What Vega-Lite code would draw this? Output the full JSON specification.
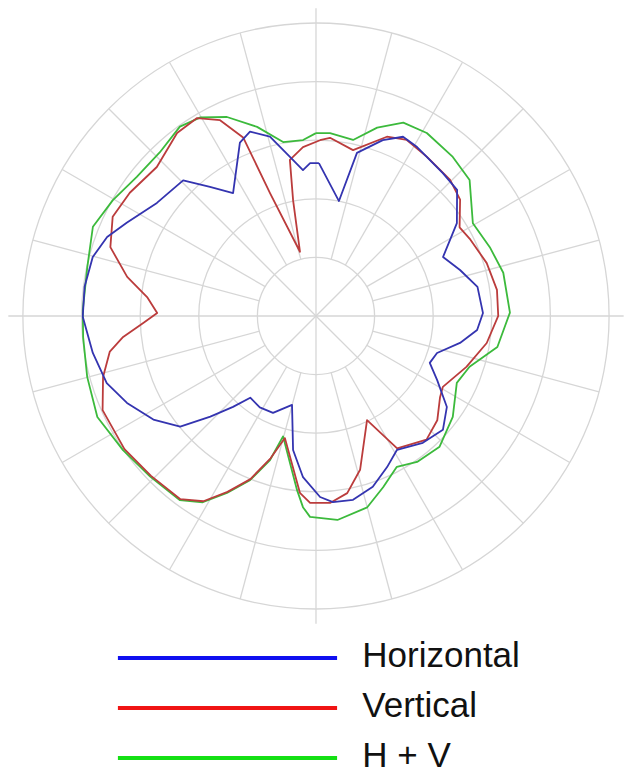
{
  "$schema": "https://vega.github.io/schema/vega-lite/v6.json",
  "width": 625,
  "height": 774,
  "padding": 0,
  "autosize": {"type": "none"},
  "background": "white",
  "config": {"view": {"stroke": null}},
  "datasets": {
    "rings": [{"ring": 10}, {"ring": 20}, {"ring": 30}, {"ring": 40}, {"ring": 50}],
    "spokes": [
      {"angle": 0, "from": 0, "to": 52.5}, {"angle": 15, "from": 10, "to": 50}, {"angle": 30, "from": 10, "to": 50},
      {"angle": 45, "from": 0, "to": 50}, {"angle": 60, "from": 10, "to": 50}, {"angle": 75, "from": 10, "to": 50},
      {"angle": 90, "from": 0, "to": 52.5}, {"angle": 105, "from": 10, "to": 50}, {"angle": 120, "from": 10, "to": 50},
      {"angle": 135, "from": 0, "to": 50}, {"angle": 150, "from": 10, "to": 50}, {"angle": 165, "from": 10, "to": 50},
      {"angle": 180, "from": 0, "to": 52.5}, {"angle": 195, "from": 10, "to": 50}, {"angle": 210, "from": 10, "to": 50},
      {"angle": 225, "from": 0, "to": 50}, {"angle": 240, "from": 10, "to": 50}, {"angle": 255, "from": 10, "to": 50},
      {"angle": 270, "from": 0, "to": 52.5}, {"angle": 285, "from": 10, "to": 50}, {"angle": 300, "from": 10, "to": 50},
      {"angle": 315, "from": 0, "to": 50}, {"angle": 330, "from": 10, "to": 50}, {"angle": 345, "from": 10, "to": 50}
    ],
    "pattern": [
      {"series": "H + V", "angle": 0, "level": 31.2}, {"series": "H + V", "angle": 4.4, "level": 31.3},
      {"series": "H + V", "angle": 11.9, "level": 30.7}, {"series": "H + V", "angle": 18, "level": 33.8},
      {"series": "H + V", "angle": 24.3, "level": 36.2}, {"series": "H + V", "angle": 31.2, "level": 36.5},
      {"series": "H + V", "angle": 40.7, "level": 35.8}, {"series": "H + V", "angle": 48.5, "level": 35.0},
      {"series": "H + V", "angle": 59.4, "level": 31.1}, {"series": "H + V", "angle": 68.4, "level": 31.9},
      {"series": "H + V", "angle": 77, "level": 32.8}, {"series": "H + V", "angle": 89, "level": 33.1},
      {"series": "H + V", "angle": 99.7, "level": 31.4}, {"series": "H + V", "angle": 108.3, "level": 27.6},
      {"series": "H + V", "angle": 115.4, "level": 26.6}, {"series": "H + V", "angle": 126.4, "level": 29.0},
      {"series": "H + V", "angle": 136.6, "level": 30.7}, {"series": "H + V", "angle": 145.3, "level": 30.3},
      {"series": "H + V", "angle": 151.8, "level": 29.2}, {"series": "H + V", "angle": 158.6, "level": 31.4},
      {"series": "H + V", "angle": 165, "level": 33.8}, {"series": "H + V", "angle": 174, "level": 35.0},
      {"series": "H + V", "angle": 181.7, "level": 34.3}, {"series": "H + V", "angle": 183.9, "level": 32.7},
      {"series": "H + V", "angle": 186.2, "level": 29.9}, {"series": "H + V", "angle": 195.3, "level": 21.3},
      {"series": "H + V", "angle": 197.7, "level": 25.8}, {"series": "H + V", "angle": 201.9, "level": 30.2},
      {"series": "H + V", "angle": 206.7, "level": 33.8}, {"series": "H + V", "angle": 211.3, "level": 37.2},
      {"series": "H + V", "angle": 216.5, "level": 39.1}, {"series": "H + V", "angle": 225.9, "level": 39.4},
      {"series": "H + V", "angle": 235.2, "level": 40.1}, {"series": "H + V", "angle": 245.2, "level": 41.1},
      {"series": "H + V", "angle": 255.1, "level": 40.4}, {"series": "H + V", "angle": 264.8, "level": 39.9},
      {"series": "H + V", "angle": 271.5, "level": 39.8}, {"series": "H + V", "angle": 282, "level": 39.9},
      {"series": "H + V", "angle": 291.8, "level": 41.0}, {"series": "H + V", "angle": 299.7, "level": 39.9},
      {"series": "H + V", "angle": 307.8, "level": 38.7}, {"series": "H + V", "angle": 316.3, "level": 38.6},
      {"series": "H + V", "angle": 324.3, "level": 39.8}, {"series": "H + V", "angle": 329.8, "level": 39.2},
      {"series": "H + V", "angle": 335.9, "level": 37.2}, {"series": "H + V", "angle": 342.7, "level": 33.8},
      {"series": "H + V", "angle": 349.3, "level": 30.2}, {"series": "H + V", "angle": 355.8, "level": 30.1},
      {"series": "H + V", "angle": 360, "level": 31.2},

      {"series": "Vertical", "angle": 1.3, "level": 30.0}, {"series": "Vertical", "angle": 4.5, "level": 30.5},
      {"series": "Vertical", "angle": 12.6, "level": 29.0}, {"series": "Vertical", "angle": 21.6, "level": 32.9},
      {"series": "Vertical", "angle": 27.3, "level": 33.8}, {"series": "Vertical", "angle": 34.9, "level": 33.1},
      {"series": "Vertical", "angle": 44.6, "level": 32.6}, {"series": "Vertical", "angle": 51.1, "level": 31.6},
      {"series": "Vertical", "angle": 58.3, "level": 28.8}, {"series": "Vertical", "angle": 63.7, "level": 29.4},
      {"series": "Vertical", "angle": 72.8, "level": 30.5}, {"series": "Vertical", "angle": 81.8, "level": 31.2},
      {"series": "Vertical", "angle": 90, "level": 31.1}, {"series": "Vertical", "angle": 99, "level": 29.5},
      {"series": "Vertical", "angle": 108.7, "level": 27.1}, {"series": "Vertical", "angle": 119.2, "level": 24.8},
      {"series": "Vertical", "angle": 123.2, "level": 25.3}, {"series": "Vertical", "angle": 130.7, "level": 27.3},
      {"series": "Vertical", "angle": 138.2, "level": 28.3}, {"series": "Vertical", "angle": 148.5, "level": 26.5},
      {"series": "Vertical", "angle": 153.9, "level": 19.8}, {"series": "Vertical", "angle": 164, "level": 27.3},
      {"series": "Vertical", "angle": 170, "level": 30.7}, {"series": "Vertical", "angle": 175.7, "level": 32.0},
      {"series": "Vertical", "angle": 181.8, "level": 31.9}, {"series": "Vertical", "angle": 185.2, "level": 30.3},
      {"series": "Vertical", "angle": 194.3, "level": 21.5}, {"series": "Vertical", "angle": 197.7, "level": 25.5},
      {"series": "Vertical", "angle": 201.9, "level": 30.0}, {"series": "Vertical", "angle": 206.7, "level": 33.6},
      {"series": "Vertical", "angle": 211.3, "level": 37.0}, {"series": "Vertical", "angle": 216.5, "level": 38.9},
      {"series": "Vertical", "angle": 225.9, "level": 39.2}, {"series": "Vertical", "angle": 235.2, "level": 39.8},
      {"series": "Vertical", "angle": 246.2, "level": 39.8}, {"series": "Vertical", "angle": 254, "level": 37.8},
      {"series": "Vertical", "angle": 260.2, "level": 35.7}, {"series": "Vertical", "angle": 263.8, "level": 33.1},
      {"series": "Vertical", "angle": 267.7, "level": 29.5}, {"series": "Vertical", "angle": 271.1, "level": 27.1},
      {"series": "Vertical", "angle": 276.4, "level": 29.0}, {"series": "Vertical", "angle": 281.7, "level": 32.9},
      {"series": "Vertical", "angle": 288.5, "level": 37.0}, {"series": "Vertical", "angle": 296, "level": 38.6},
      {"series": "Vertical", "angle": 303.5, "level": 38.1}, {"series": "Vertical", "angle": 313.1, "level": 37.2},
      {"series": "Vertical", "angle": 322.8, "level": 39.2}, {"series": "Vertical", "angle": 329, "level": 39.4},
      {"series": "Vertical", "angle": 333.9, "level": 37.2}, {"series": "Vertical", "angle": 337.8, "level": 32.9},
      {"series": "Vertical", "angle": 339.5, "level": 22.4}, {"series": "Vertical", "angle": 346, "level": 11.3},
      {"series": "Vertical", "angle": 348.8, "level": 20.1}, {"series": "Vertical", "angle": 350.5, "level": 27.0},
      {"series": "Vertical", "angle": 355.6, "level": 28.9}, {"series": "Vertical", "angle": 361.3, "level": 30.0},

      {"series": "Horizontal", "angle": 1.1, "level": 26.1}, {"series": "Horizontal", "angle": 11.3, "level": 20.0},
      {"series": "Horizontal", "angle": 14.1, "level": 28.7}, {"series": "Horizontal", "angle": 20.8, "level": 32.1},
      {"series": "Horizontal", "angle": 25.9, "level": 34.0}, {"series": "Horizontal", "angle": 30.9, "level": 33.6},
      {"series": "Horizontal", "angle": 41.6, "level": 32.6}, {"series": "Horizontal", "angle": 48.2, "level": 32.3},
      {"series": "Horizontal", "angle": 56.6, "level": 28.8}, {"series": "Horizontal", "angle": 65.1, "level": 23.9},
      {"series": "Horizontal", "angle": 72.3, "level": 25.8}, {"series": "Horizontal", "angle": 79.8, "level": 28.0},
      {"series": "Horizontal", "angle": 89, "level": 28.5}, {"series": "Horizontal", "angle": 95, "level": 27.6},
      {"series": "Horizontal", "angle": 100.6, "level": 25.0}, {"series": "Horizontal", "angle": 107, "level": 21.6},
      {"series": "Horizontal", "angle": 112.4, "level": 21.0}, {"series": "Horizontal", "angle": 117.9, "level": 23.4},
      {"series": "Horizontal", "angle": 124.8, "level": 27.2}, {"series": "Horizontal", "angle": 131.9, "level": 29.1},
      {"series": "Horizontal", "angle": 139.9, "level": 28.3}, {"series": "Horizontal", "angle": 148.8, "level": 26.7},
      {"series": "Horizontal", "angle": 154.8, "level": 28.5}, {"series": "Horizontal", "angle": 161.6, "level": 30.7},
      {"series": "Horizontal", "angle": 168.6, "level": 32.0}, {"series": "Horizontal", "angle": 174.8, "level": 31.9},
      {"series": "Horizontal", "angle": 178.7, "level": 30.9}, {"series": "Horizontal", "angle": 184.6, "level": 27.6},
      {"series": "Horizontal", "angle": 189.7, "level": 23.2}, {"series": "Horizontal", "angle": 195.1, "level": 15.7},
      {"series": "Horizontal", "angle": 203.9, "level": 18.1}, {"series": "Horizontal", "angle": 211.6, "level": 18.3},
      {"series": "Horizontal", "angle": 218.8, "level": 17.9}, {"series": "Horizontal", "angle": 222.4, "level": 21.0},
      {"series": "Horizontal", "angle": 226.4, "level": 24.9}, {"series": "Horizontal", "angle": 230.8, "level": 29.9},
      {"series": "Horizontal", "angle": 237.5, "level": 32.9}, {"series": "Horizontal", "angle": 245.3, "level": 35.5},
      {"series": "Horizontal", "angle": 252.2, "level": 37.5}, {"series": "Horizontal", "angle": 260.6, "level": 38.6},
      {"series": "Horizontal", "angle": 269.8, "level": 39.8}, {"series": "Horizontal", "angle": 277.2, "level": 39.8},
      {"series": "Horizontal", "angle": 284.8, "level": 39.4}, {"series": "Horizontal", "angle": 290.7, "level": 38.1},
      {"series": "Horizontal", "angle": 296.2, "level": 36.0}, {"series": "Horizontal", "angle": 305.4, "level": 33.3},
      {"series": "Horizontal", "angle": 315.6, "level": 32.4}, {"series": "Horizontal", "angle": 320.6, "level": 28.5},
      {"series": "Horizontal", "angle": 326, "level": 25.3}, {"series": "Horizontal", "angle": 336.3, "level": 32.3},
      {"series": "Horizontal", "angle": 340.3, "level": 33.4}, {"series": "Horizontal", "angle": 345.6, "level": 31.6},
      {"series": "Horizontal", "angle": 350.7, "level": 27.5}, {"series": "Horizontal", "angle": 354.9, "level": 25.0},
      {"series": "Horizontal", "angle": 357.8, "level": 26.1}, {"series": "Horizontal", "angle": 361.1, "level": 26.1}
    ],
    "legend": [{"series": "Horizontal"}, {"series": "Vertical"}, {"series": "H + V"}]
  },
  "layer": [
    {
      "data": {"name": "rings"},
      "mark": {"type": "arc", "filled": false, "stroke": "#d6d6d6", "strokeWidth": 1.3, "theta": 0, "theta2": 6.2832},
      "encoding": {
        "x": {"datum": 0, "type": "quantitative", "scale": {"domain": [-53.92, 52.73], "nice": false, "zero": false}, "axis": null},
        "y": {"datum": 0, "type": "quantitative", "scale": {"domain": [-78.16, 53.92], "nice": false, "zero": false}, "axis": null},
        "radius": {"field": "ring", "type": "quantitative", "stack": null, "scale": {"type": "linear", "domain": [0, 50], "range": [0, 293], "zero": true}}
      }
    },
    {
      "data": {"name": "spokes"},
      "transform": [
        {"calculate": "datum.from*sin(datum.angle*PI/180)", "as": "x1"},
        {"calculate": "datum.from*cos(datum.angle*PI/180)", "as": "y1"},
        {"calculate": "datum.to*sin(datum.angle*PI/180)", "as": "x2"},
        {"calculate": "datum.to*cos(datum.angle*PI/180)", "as": "y2"}
      ],
      "mark": {"type": "rule", "stroke": "#d6d6d6", "strokeWidth": 1.3},
      "encoding": {
        "x": {"field": "x1", "type": "quantitative", "scale": {"domain": [-53.92, 52.73], "nice": false, "zero": false}, "axis": null},
        "y": {"field": "y1", "type": "quantitative", "scale": {"domain": [-78.16, 53.92], "nice": false, "zero": false}, "axis": null},
        "x2": {"field": "x2"},
        "y2": {"field": "y2"}
      }
    },
    {
      "data": {"name": "pattern"},
      "transform": [
        {"calculate": "datum.level*sin(datum.angle*PI/180)", "as": "px"},
        {"calculate": "datum.level*cos(datum.angle*PI/180)", "as": "py"}
      ],
      "mark": {"type": "line", "strokeWidth": 1.8, "strokeJoin": "round"},
      "encoding": {
        "x": {"field": "px", "type": "quantitative", "scale": {"domain": [-53.92, 52.73], "nice": false, "zero": false}, "axis": null},
        "y": {"field": "py", "type": "quantitative", "scale": {"domain": [-78.16, 53.92], "nice": false, "zero": false}, "axis": null},
        "order": {"field": "angle", "type": "quantitative"},
        "color": {"field": "series", "type": "nominal", "scale": {"domain": ["H + V", "Vertical", "Horizontal"], "range": ["#3cba3c", "#bb3c3c", "#3434b0"]}, "legend": null}
      }
    },
    {
      "data": {"name": "legend"},
      "mark": {"type": "rule", "strokeWidth": 4},
      "encoding": {
        "x": {"datum": -33.8, "type": "quantitative"},
        "x2": {"datum": 3.6},
        "y": {"field": "series", "type": "ordinal", "scale": {"type": "point", "domain": ["Horizontal", "Vertical", "H + V"], "range": [658, 758], "padding": 0}, "axis": null},
        "color": {"field": "series", "type": "nominal", "scale": {"domain": ["Horizontal", "Vertical", "H + V"], "range": ["#1010f0", "#f01414", "#14e014"]}, "legend": null}
      }
    },
    {
      "data": {"name": "legend"},
      "mark": {"type": "text", "align": "left", "baseline": "middle", "font": "Liberation Sans", "fontSize": 35, "color": "#111111"},
      "encoding": {
        "x": {"datum": 7.9, "type": "quantitative"},
        "y": {"field": "series", "type": "ordinal", "scale": {"type": "point", "domain": ["Horizontal", "Vertical", "H + V"], "range": [656, 756], "padding": 0}, "axis": null},
        "text": {"field": "series"}
      }
    }
  ],
  "resolve": {"scale": {"y": "independent", "color": "independent"}}
}
